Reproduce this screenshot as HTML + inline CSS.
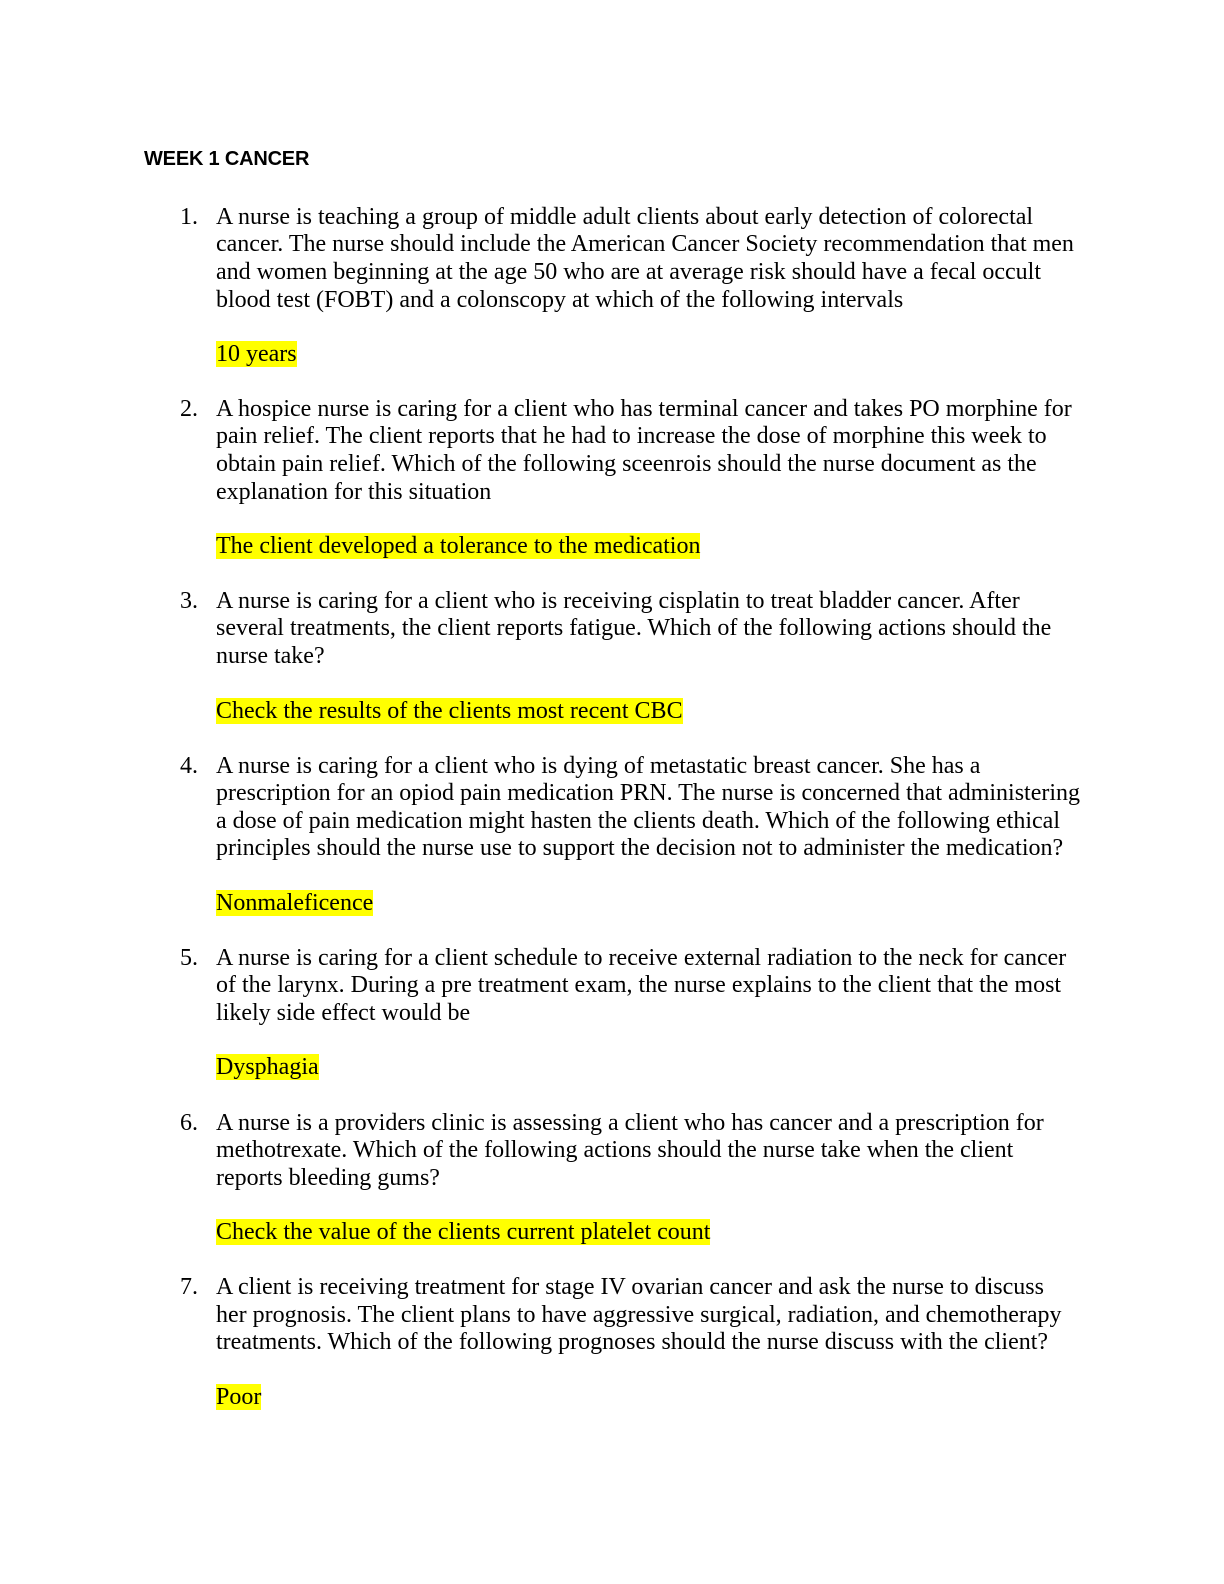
<!DOCTYPE html>
<html>
<head>
<meta charset="utf-8">
<style>
  html,body{margin:0;padding:0;background:#fff;}
  body{width:1224px;height:1584px;position:relative;overflow:hidden;}
  .l{position:absolute;left:216px;font-family:"Liberation Serif",serif;font-size:24px;line-height:28px;height:28px;white-space:nowrap;color:#000;}
  .n{position:absolute;left:180px;font-family:"Liberation Serif",serif;font-size:24px;line-height:28px;color:#000;}
  .h{background:#ffff00;}
  .title{position:absolute;left:144px;top:146px;font-family:"Liberation Sans",sans-serif;font-weight:bold;font-size:20px;line-height:26px;letter-spacing:-0.2px;}
</style>
</head>
<body>
<div class="title">WEEK 1 CANCER</div>

<div class="n" style="top:203px">1.</div>
<div class="l" style="top:203px">A nurse is teaching a group of middle adult clients about early detection of colorectal</div>
<div class="l" style="top:230px">cancer. The nurse should include the American Cancer Society recommendation that men</div>
<div class="l" style="top:258px">and women beginning at the age 50 who are at average risk should have a fecal occult</div>
<div class="l" style="top:286px">blood test (FOBT) and a colonscopy at which of the following intervals</div>
<div class="l" style="top:340px"><span class="h">10 years</span></div>

<div class="n" style="top:395px">2.</div>
<div class="l" style="top:395px">A hospice nurse is caring for a client who has terminal cancer and takes PO morphine for</div>
<div class="l" style="top:422px">pain relief. The client reports that he had to increase the dose of morphine this week to</div>
<div class="l" style="top:450px">obtain pain relief. Which of the following sceenrois should the nurse document as the</div>
<div class="l" style="top:478px">explanation for this situation</div>
<div class="l" style="top:532px"><span class="h">The client developed a tolerance to the medication</span></div>

<div class="n" style="top:587px">3.</div>
<div class="l" style="top:587px">A nurse is caring for a client who is receiving cisplatin to treat bladder cancer. After</div>
<div class="l" style="top:614px">several treatments, the client reports fatigue. Which of the following actions should the</div>
<div class="l" style="top:642px">nurse take?</div>
<div class="l" style="top:697px"><span class="h">Check the results of the clients most recent CBC</span></div>

<div class="n" style="top:752px">4.</div>
<div class="l" style="top:752px">A nurse is caring for a client who is dying of metastatic breast cancer. She has a</div>
<div class="l" style="top:779px">prescription for an opiod pain medication PRN. The nurse is concerned that administering</div>
<div class="l" style="top:807px">a dose of pain medication might hasten the clients death. Which of the following ethical</div>
<div class="l" style="top:834px">principles should the nurse use to support the decision not to administer the medication?</div>
<div class="l" style="top:889px"><span class="h">Nonmaleficence</span></div>

<div class="n" style="top:944px">5.</div>
<div class="l" style="top:944px">A nurse is caring for a client schedule to receive external radiation to the neck for cancer</div>
<div class="l" style="top:971px">of the larynx. During a pre treatment exam, the nurse explains to the client that the most</div>
<div class="l" style="top:999px">likely side effect would be</div>
<div class="l" style="top:1053px"><span class="h">Dysphagia</span></div>

<div class="n" style="top:1109px">6.</div>
<div class="l" style="top:1109px">A nurse is a providers clinic is assessing a client who has cancer and a prescription for</div>
<div class="l" style="top:1136px">methotrexate. Which of the following actions should the nurse take when the client</div>
<div class="l" style="top:1164px">reports bleeding gums?</div>
<div class="l" style="top:1218px"><span class="h">Check the value of the clients current platelet count</span></div>

<div class="n" style="top:1273px">7.</div>
<div class="l" style="top:1273px">A client is receiving treatment for stage IV ovarian cancer and ask the nurse to discuss</div>
<div class="l" style="top:1301px">her prognosis. The client plans to have aggressive surgical, radiation, and chemotherapy</div>
<div class="l" style="top:1328px">treatments. Which of the following prognoses should the nurse discuss with the client?</div>
<div class="l" style="top:1383px"><span class="h">Poor</span></div>
</body>
</html>
